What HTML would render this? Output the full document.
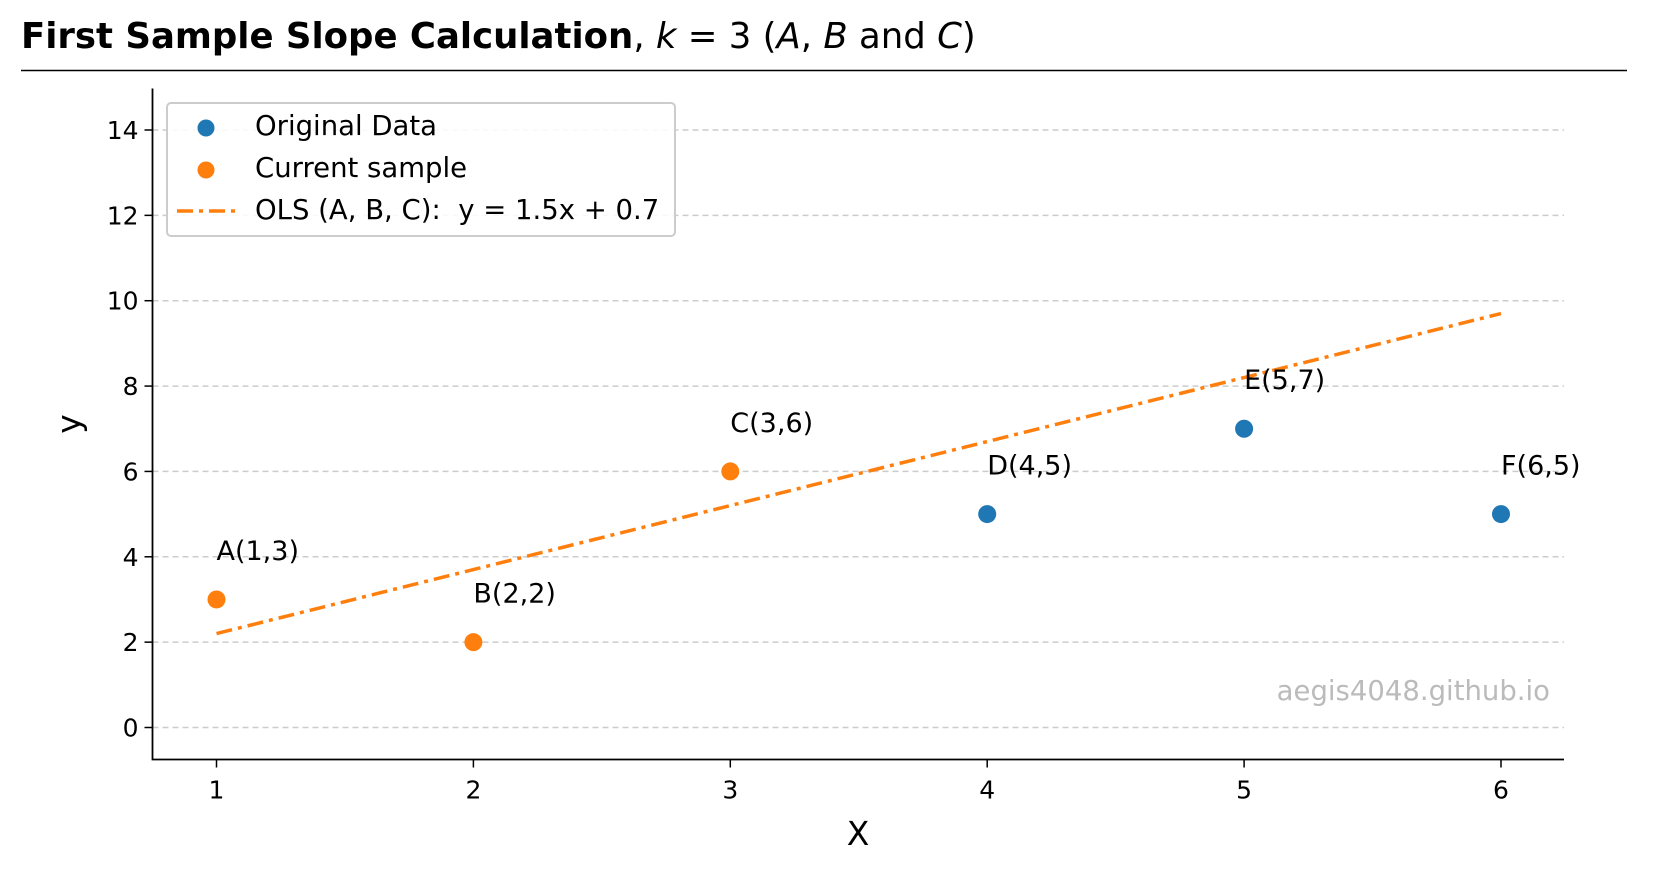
<!DOCTYPE html>
<html><head><meta charset="utf-8"><style>
body{margin:0;background:#fff;}
svg{display:block;font-family:"DejaVu Sans","Liberation Sans",sans-serif;}
</style></head><body>
<svg id="c" width="1672" height="872">
<text x="21" y="48" font-size="35.5"><tspan font-weight="bold">First Sample Slope Calculation</tspan>, <tspan font-style="italic">k</tspan> = 3 (<tspan font-style="italic">A</tspan>, <tspan font-style="italic">B</tspan> and <tspan font-style="italic">C</tspan>)</text>
<line x1="21" y1="70.5" x2="1627" y2="70.5" stroke="#000" stroke-width="1.6"/>
<g id="grid"></g><g id="marks"></g>
<text x="1550" y="700" font-size="27.5" fill="#bbb" text-anchor="end">aegis4048.github.io</text>
<text x="858" y="845" font-size="33" text-anchor="middle">X</text>
<text transform="translate(80,424) rotate(-90)" font-size="33" text-anchor="middle">y</text>
<g>
<rect x="167" y="103" width="508" height="133" rx="4" fill="#fff" fill-opacity="0.85" stroke="#ccc" stroke-width="2"/>
<circle cx="206" cy="128" r="8.5" fill="#1f77b4"/>
<text x="255" y="135" font-size="27.5">Original Data</text>
<circle cx="206" cy="170" r="8.5" fill="#ff7f0e"/>
<text x="255" y="177" font-size="27.5">Current sample</text>
<line x1="177" y1="211" x2="237" y2="211" stroke="#ff7f0e" stroke-width="3.5" stroke-dasharray="16,6,4,6"/>
<text x="255" y="219" font-size="27.5" xml:space="preserve">OLS (A, B, C):  y = 1.5x + 0.7</text>
</g>
</svg>
<script>
const labels=["A","B","C","D","E","F"];
const xs=[1,2,3,4,5,6];
const ys=[3,2,6,5,7,5];
const inSample=[true,true,true,false,false,false];
const slope=1.5, intercept=0.7;
const xTicks=[1,2,3,4,5,6];
const yTicks=[0,2,4,6,8,10,12,14];
const L=152.5,R=1564,T=88.5,B=759.5;
const sx=v=>216.5+(v-1)*(1501-216.5)/5;
const sy=v=>727.5-v*(727.5-130)/14;
const NS="http://www.w3.org/2000/svg";
const grid=document.getElementById('grid'),marks=document.getElementById('marks');
function mk(p,tag,at){const e=document.createElementNS(NS,tag);for(const k in at)e.setAttribute(k,at[k]);p.appendChild(e);return e;}
yTicks.forEach(t=>{
 const g=mk(grid,'line',{x1:L,x2:R,y1:sy(t),y2:sy(t),stroke:'#ccc','stroke-width':1.5,'stroke-dasharray':'6,4'});
 
 
 mk(grid,'line',{x1:L-8,x2:L,y1:sy(t),y2:sy(t),stroke:'#000','stroke-width':1.5});
 const tx=mk(grid,'text',{x:L-14,y:sy(t)+9,'font-size':25,'text-anchor':'end'});tx.textContent=t;
 
 
});
xTicks.forEach(t=>{
 mk(grid,'line',{x1:sx(t),x2:sx(t),y1:B,y2:B+8,stroke:'#000','stroke-width':1.5});
 const tx=mk(grid,'text',{x:sx(t),y:B+39,'font-size':25,'text-anchor':'middle'});tx.textContent=t;
 
 
});
const ax=mk(grid,'path',{d:`M${L},${T}V${B}H${R}`,fill:'none',stroke:'#000','stroke-width':1.8});


const ln=mk(marks,'line',{x1:sx(1),y1:sy(slope*1+intercept),x2:sx(6),y2:sy(slope*6+intercept),stroke:'#ff7f0e','stroke-width':3.5,'stroke-dasharray':'16,6,4,6'});


xs.forEach((x,i)=>{
 const c=mk(marks,'circle',{cx:sx(x),cy:sy(ys[i]),r:9,fill:inSample[i]?'#ff7f0e':'#1f77b4'});
 
 
 const t=mk(marks,'text',{x:sx(x),y:sy(ys[i]+1)+3,'font-size':27});
 t.textContent=`${labels[i]}(${x},${ys[i]})`;
 
 
});
</script>
</body></html>
